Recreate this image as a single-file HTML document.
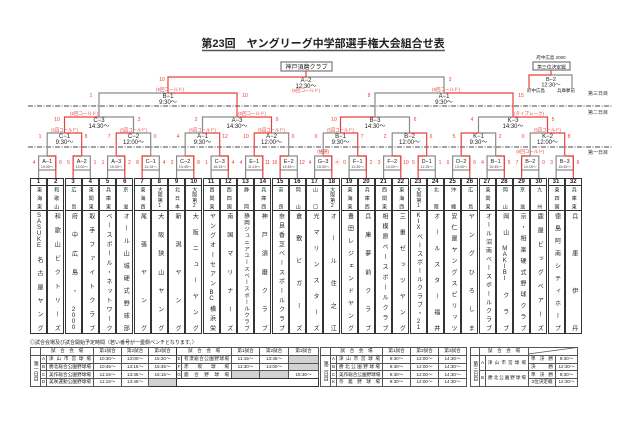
<!DOCTYPE html>
<html><head><meta charset="utf-8">
<style>
html,body{margin:0;padding:0;background:#fff;}
body{width:640px;height:426px;position:relative;overflow:hidden;font-family:"Liberation Sans","Noto Sans CJK JP",sans-serif;color:#222;}
svg{position:absolute;left:0;top:0;}
svg text{font-family:"Liberation Sans","Noto Sans CJK JP",sans-serif;}
.col{position:absolute;top:178px;width:15px;height:154px;border:1px solid #333;background:#fff;}
.n{height:6px;border-bottom:1px solid #333;font-size:6px;font-weight:bold;text-align:center;line-height:7px;}
.r,.m{writing-mode:vertical-rl;text-orientation:upright;text-align:justify;text-align-last:justify;width:15px;line-height:15px;font-size:5.5px;box-sizing:border-box;padding:1px 0;}
.r{height:25px;border-bottom:1px solid #333;font-size:5px;}
.m{height:122px;font-size:6px;padding:2px 0;}
table{position:absolute;border-collapse:collapse;font-size:4.6px;table-layout:fixed;}
td{border:0.8px solid #555;padding:0;text-align:center;white-space:nowrap;overflow:hidden;height:6.8px;line-height:6.5px;}
td.v{text-align:justify;text-align-last:justify;padding:0 2px;}
td.g{background:#d2d2d2;}
td.d{writing-mode:vertical-rl;text-orientation:upright;font-size:5px;}
.t{border:1.4px solid #333;}
</style></head><body>

<svg width="640" height="426" viewBox="0 0 640 426">
<text x="323" y="47" text-anchor="middle" font-size="11" font-weight="bold" fill="#222">第23回　ヤングリーグ中学部選手権大会組合せ表</text>
<line x1="202" y1="50.5" x2="445" y2="50.5" stroke="#555" stroke-width="1.6"/>

<line x1="28" y1="106" x2="612" y2="106" stroke="#444" stroke-width="1" stroke-dasharray="5,1.5,1,1.5"/>
<line x1="28" y1="147" x2="612" y2="147" stroke="#444" stroke-width="1" stroke-dasharray="5,1.5,1,1.5"/>
<g font-size="5" fill="#333" text-anchor="middle">
<text x="598" y="95">第三日目</text>
<text x="598" y="114">第二日目</text>
<text x="598" y="154">第一日目</text>
</g>

<rect x="281" y="62" width="51" height="9" fill="#fff" stroke="#777" stroke-width="1.2"/>
<text x="306.5" y="69" text-anchor="middle" font-size="6" fill="#222">神戸須磨クラブ</text>

<text x="551" y="59" text-anchor="middle" font-size="4.5" fill="#222">府中広島 2000</text>
<rect x="533" y="62" width="37" height="8" fill="#fff" stroke="#777" stroke-width="1.2"/>
<text x="551.5" y="68.3" text-anchor="middle" font-size="4.8" fill="#222">第三位決定戦</text>

<g fill="none" stroke-width="1.2">
<polyline points="572,88 572,75 551,75" stroke="#8a8a8a"/>
<polyline points="529,88 529,75 551,75 551,70" stroke="#e8413c"/>
<polyline points="444,93 444,77 306,77" stroke="#8a8a8a"/>
<polyline points="168,93 168,77 306,77 306,71" stroke="#e8413c"/>
<polyline points="99,117 99,93 168,93" stroke="#8a8a8a"/>
<polyline points="237,117 237,93 168,93" stroke="#e8413c"/>
<polyline points="375,117 375,93 444,93" stroke="#8a8a8a"/>
<polyline points="513,117 513,93 444,93" stroke="#e8413c"/>
<polyline points="133.5,133 133.5,117 99,117" stroke="#8a8a8a"/>
<polyline points="64.5,133 64.5,117 99,117" stroke="#e8413c"/>
<polyline points="202.5,133 202.5,117 237,117" stroke="#8a8a8a"/>
<polyline points="271.5,133 271.5,117 237,117" stroke="#e8413c"/>
<polyline points="409.5,133 409.5,117 375,117" stroke="#8a8a8a"/>
<polyline points="340.5,133 340.5,117 375,117" stroke="#e8413c"/>
<polyline points="478.5,133 478.5,117 513,117" stroke="#8a8a8a"/>
<polyline points="547.5,133 547.5,117 513,117" stroke="#e8413c"/>
<polyline points="47.2,156 47.2,133 64.5,133" stroke="#8a8a8a"/>
<polyline points="81.7,156 81.7,133 64.5,133" stroke="#e8413c"/>
<polyline points="150.7,156 150.7,133 133.5,133" stroke="#8a8a8a"/>
<polyline points="116.2,156 116.2,133 133.5,133" stroke="#e8413c"/>
<polyline points="185.2,156 185.2,133 202.5,133" stroke="#8a8a8a"/>
<polyline points="219.7,156 219.7,133 202.5,133" stroke="#e8413c"/>
<polyline points="288.7,156 288.7,133 271.5,133" stroke="#8a8a8a"/>
<polyline points="254.2,156 254.2,133 271.5,133" stroke="#e8413c"/>
<polyline points="323.2,156 323.2,133 340.5,133" stroke="#8a8a8a"/>
<polyline points="357.7,156 357.7,133 340.5,133" stroke="#e8413c"/>
<polyline points="392.2,156 392.2,133 409.5,133" stroke="#8a8a8a"/>
<polyline points="426.7,156 426.7,133 409.5,133" stroke="#e8413c"/>
<polyline points="495.7,156 495.7,133 478.5,133" stroke="#8a8a8a"/>
<polyline points="461.2,156 461.2,133 478.5,133" stroke="#e8413c"/>
<polyline points="530.2,156 530.2,133 547.5,133" stroke="#8a8a8a"/>
<polyline points="564.7,156 564.7,133 547.5,133" stroke="#e8413c"/>
</g>

<g fill="#fff" stroke="#8a8a8a" stroke-width="1.2">
<rect x="38.6" y="156" width="17.2" height="14"/>
<rect x="73.1" y="156" width="17.2" height="14"/>
<rect x="107.6" y="156" width="17.2" height="14"/>
<rect x="142.1" y="156" width="17.2" height="14"/>
<rect x="176.6" y="156" width="17.2" height="14"/>
<rect x="211.1" y="156" width="17.2" height="14"/>
<rect x="245.6" y="156" width="17.2" height="14"/>
<rect x="280.1" y="156" width="17.2" height="14"/>
<rect x="314.6" y="156" width="17.2" height="14"/>
<rect x="349.1" y="156" width="17.2" height="14"/>
<rect x="383.6" y="156" width="17.2" height="14"/>
<rect x="418.1" y="156" width="17.2" height="14"/>
<rect x="452.6" y="156" width="17.2" height="14"/>
<rect x="487.1" y="156" width="17.2" height="14"/>
<rect x="521.6" y="156" width="17.2" height="14"/>
<rect x="556.1" y="156" width="17.2" height="14"/>
</g>
<g fill="none" stroke="#8a8a8a" stroke-width="1.2">
<line x1="38.6" y1="170" x2="38.6" y2="178"/>
<line x1="90.3" y1="170" x2="90.3" y2="178"/>
<line x1="107.6" y1="170" x2="107.6" y2="178"/>
<line x1="159.3" y1="170" x2="159.3" y2="178"/>
<line x1="176.6" y1="170" x2="176.6" y2="178"/>
<line x1="211.1" y1="170" x2="211.1" y2="178"/>
<line x1="245.6" y1="170" x2="245.6" y2="178"/>
<line x1="297.3" y1="170" x2="297.3" y2="178"/>
<line x1="314.6" y1="170" x2="314.6" y2="178"/>
<line x1="349.1" y1="170" x2="349.1" y2="178"/>
<line x1="383.6" y1="170" x2="383.6" y2="178"/>
<line x1="435.3" y1="170" x2="435.3" y2="178"/>
<line x1="452.6" y1="170" x2="452.6" y2="178"/>
<line x1="487.1" y1="170" x2="487.1" y2="178"/>
<line x1="538.8" y1="170" x2="538.8" y2="178"/>
<line x1="556.1" y1="170" x2="556.1" y2="178"/>
</g>
<g fill="none" stroke="#e8413c" stroke-width="1.2">
<polyline points="55.8,178 55.8,156 47.2,156"/>
<polyline points="73.1,178 73.1,156 81.7,156"/>
<polyline points="124.8,178 124.8,156 116.2,156"/>
<polyline points="142.1,178 142.1,156 150.7,156"/>
<polyline points="193.8,178 193.8,156 185.2,156"/>
<polyline points="228.3,178 228.3,156 219.7,156"/>
<polyline points="262.8,178 262.8,156 254.2,156"/>
<polyline points="280.1,178 280.1,156 288.7,156"/>
<polyline points="331.8,178 331.8,156 323.2,156"/>
<polyline points="366.3,178 366.3,156 357.7,156"/>
<polyline points="400.8,178 400.8,156 392.2,156"/>
<polyline points="418.1,178 418.1,156 426.7,156"/>
<polyline points="469.8,178 469.8,156 461.2,156"/>
<polyline points="504.3,178 504.3,156 495.7,156"/>
<polyline points="521.6,178 521.6,156 530.2,156"/>
<polyline points="573.3,178 573.3,156 564.7,156"/>
</g>

<g text-anchor="middle" fill="#222">
<g font-size="5.5">
<text x="47.2" y="163">A−1</text><text x="81.7" y="163">A−2</text><text x="116.2" y="163">A−3</text><text x="150.7" y="163">C−1</text>
<text x="185.2" y="163">C−2</text><text x="219.7" y="163">C−3</text><text x="254.2" y="163">E−1</text><text x="288.7" y="163">E−2</text>
<text x="323.2" y="163">G−3</text><text x="357.7" y="163">F−1</text><text x="392.2" y="163">F−2</text><text x="426.7" y="163">D−1</text>
<text x="461.2" y="163">D−2</text><text x="495.7" y="163">B−1</text><text x="530.2" y="163">B−2</text><text x="564.7" y="163">B−3</text>
</g>
<g font-size="3.6" fill="#444">
<text x="47.2" y="168">10:30〜</text><text x="81.7" y="168">13:00〜</text><text x="116.2" y="168">15:30〜</text><text x="150.7" y="168">11:15〜</text>
<text x="185.2" y="168">13:45〜</text><text x="219.7" y="168">16:15〜</text><text x="254.2" y="168">11:15〜</text><text x="288.7" y="168">13:45〜</text>
<text x="323.2" y="168">15:30〜</text><text x="357.7" y="168">11:30〜</text><text x="392.2" y="168">14:00〜</text><text x="426.7" y="168">11:15〜</text>
<text x="461.2" y="168">13:45〜</text><text x="495.7" y="168">10:45〜</text><text x="530.2" y="168">10:15〜</text><text x="564.7" y="168">15:45〜</text>
</g>
</g>
<g text-anchor="middle" fill="#e8413c" font-size="5">
<text x="34" y="164">4</text><text x="60.5" y="164">6</text>
<text x="68.5" y="164">5</text><text x="95" y="164">1</text>
<text x="103" y="164">1</text><text x="129.5" y="164">2</text>
<text x="137.5" y="164">8</text><text x="164" y="164">4</text>
<text x="172" y="164">3</text><text x="198.5" y="164">8</text>
<text x="206.5" y="164">1</text><text x="233" y="164">4</text>
<text x="241" y="164">4</text><text x="267.5" y="164">11</text>
<text x="274.5" y="164">16</text><text x="302" y="164">12</text>
<text x="310" y="164">4</text><text x="337" y="164">④</text>
<text x="344.5" y="164">0</text><text x="371" y="164">2</text>
<text x="379" y="164">3</text><text x="406" y="164">10</text>
<text x="413.5" y="164">5</text><text x="440" y="164">1</text>
<text x="448" y="164">0</text><text x="474.5" y="164">6</text>
<text x="482.5" y="164">4</text><text x="509" y="164">5</text>
<text x="517" y="164">7</text><text x="543.5" y="164">0</text>
<text x="551.5" y="164">3</text><text x="578" y="164">6</text>
<text x="323.2" y="153" font-size="4.5">(抽選)</text>
<text x="530.2" y="153" font-size="4.5">(6回コールド)</text>
</g>

<g text-anchor="middle" fill="#222" font-size="6">
<text x="64.5" y="138">C−1</text><text x="133.5" y="138">C−2</text><text x="202.5" y="138">A−1</text><text x="271.5" y="138">A−2</text>
<text x="340.5" y="138">B−1</text><text x="409.5" y="138">B−2</text><text x="478.5" y="138">K−1</text><text x="547.5" y="138">K−2</text>
<text x="64.5" y="144">9:30〜</text><text x="133.5" y="144">12:00〜</text><text x="202.5" y="144">9:30〜</text><text x="271.5" y="144">12:00〜</text>
<text x="340.5" y="144">9:30〜</text><text x="409.5" y="144">12:00〜</text><text x="478.5" y="144">9:30〜</text><text x="547.5" y="144">12:00〜</text>
</g>
<g text-anchor="middle" fill="#e8413c" font-size="5">
<text x="40" y="138">1</text><text x="86" y="138">8</text>
<text x="109" y="138">7</text><text x="155" y="138">0</text>
<text x="178" y="138">4</text><text x="225" y="138">12</text>
<text x="246" y="138">10</text><text x="293" y="138">0</text>
<text x="316" y="138">0</text><text x="362" y="138">7</text>
<text x="385" y="138">2</text><text x="431" y="138">6</text>
<text x="454" y="138">5</text><text x="500" y="138">2</text>
<text x="523" y="138">0</text><text x="569" y="138">8</text>
<g font-size="4.3">
<text x="64.5" y="131.5">(6回コールド)</text><text x="133.5" y="131.5">(5回コールド)</text>
<text x="202.5" y="131.5">(6回コールド)</text><text x="271.5" y="131.5">(5回コールド)</text>
<text x="340.5" y="131.5">(5回コールド)</text><text x="547.5" y="131.5">(5回コールド)</text>
</g>
</g>

<g text-anchor="middle" fill="#222" font-size="6">
<text x="99" y="122">C−3</text><text x="237" y="122">A−3</text><text x="375" y="122">B−3</text><text x="513" y="122">K−3</text>
<text x="99" y="128">14:30〜</text><text x="237" y="128">14:30〜</text><text x="375" y="128">14:30〜</text><text x="513" y="128">14:30〜</text>
</g>
<g text-anchor="middle" fill="#e8413c" font-size="5">
<text x="57" y="121">10</text><text x="139" y="121">3</text>
<text x="196" y="121">2</text><text x="277" y="121">9</text>
<text x="334" y="121">10</text><text x="415" y="121">6</text>
<text x="472" y="121">4</text><text x="553" y="121">5</text>
<g font-size="4.5">
<text x="84" y="115">(5回コールド)</text><text x="252" y="115">(5回コールド)</text><text x="529" y="115">(タイブレーク)</text>
</g>
</g>

<g text-anchor="middle" fill="#222" font-size="6">
<text x="168" y="98">B−1</text><text x="168" y="104">9:30〜</text>
<text x="444" y="98">A−1</text><text x="444" y="104">9:30〜</text>
<text x="306" y="82">A−2</text><text x="306" y="88">12:30〜</text>
<text x="551" y="81" font-size="5.5">B−2</text><text x="551" y="86.5" font-size="5.5">12:30〜</text>
<text x="536" y="92" font-size="4.5">府中広島</text><text x="566" y="92" font-size="4.5">兵庫夢前</text>
</g>
<g text-anchor="middle" fill="#e8413c" font-size="5">
<text x="91" y="97">1</text><text x="245" y="97">10</text>
<text x="369" y="97">8</text><text x="521" y="97">15</text>
<text x="162" y="81">10</text><text x="450" y="81">3</text>
<g font-size="4.5">
<text x="170" y="91">(5回コールド)</text><text x="306" y="92">(5回コールド)</text><text x="446" y="91">(6回コールド)</text>
</g>
</g>

<line x1="528" y1="354" x2="577" y2="347.5" stroke="#555" stroke-width="0.7"/>
<text x="30" y="344" font-size="5" fill="#222">◎試合会場及び試合開始予定時間（若い番号が一塁側ベンチとなります。）</text>
</svg>

<div class="col" style="left:30px"><div class="n">1</div><div class="r">東海東</div><div class="m">SASUKE名古屋ヤング</div></div>
<div class="col" style="left:47.25px"><div class="n">2</div><div class="r">和歌山</div><div class="m">和歌山ビクトリーズ</div></div>
<div class="col" style="left:64.5px"><div class="n">3</div><div class="r">広島</div><div class="m">府中広島・2000</div></div>
<div class="col" style="left:81.75px"><div class="n">4</div><div class="r">東関東</div><div class="m">取手ファイトクラブ</div></div>
<div class="col" style="left:99px"><div class="n">5</div><div class="r">兵庫東</div><div class="m">ベースボール・ネットワーク</div></div>
<div class="col" style="left:116.25px"><div class="n">6</div><div class="r">京滋</div><div class="m">オール山城硬式野球部</div></div>
<div class="col" style="left:133.5px"><div class="n">7</div><div class="r">東海西</div><div class="m">尾張ヤング</div></div>
<div class="col" style="left:150.75px"><div class="n">8</div><div class="r">大阪第1</div><div class="m">大阪狭山ヤング</div></div>
<div class="col" style="left:168px"><div class="n">9</div><div class="r">北日本</div><div class="m">新潟ヤング</div></div>
<div class="col" style="left:185.25px"><div class="n">10</div><div class="r">大阪第2</div><div class="m">大阪ニューヤング</div></div>
<div class="col" style="left:202.5px"><div class="n">11</div><div class="r">西関東</div><div class="m">ヤングオーセアンBC横浜栄</div></div>
<div class="col" style="left:219.75px"><div class="n">12</div><div class="r">西四国</div><div class="m">南国マリナーズ</div></div>
<div class="col" style="left:237px"><div class="n">13</div><div class="r">静岡</div><div class="m" style="font-size:5.5px">静岡ジュニアユースベースボールクラブ</div></div>
<div class="col" style="left:254.25px"><div class="n">14</div><div class="r">兵庫西</div><div class="m">神戸須磨クラブ</div></div>
<div class="col" style="left:271.5px"><div class="n">15</div><div class="r">奈良</div><div class="m">奈良香芝ベースボールクラブ</div></div>
<div class="col" style="left:288.75px"><div class="n">16</div><div class="r">岡山</div><div class="m">倉敷ビガーズ</div></div>
<div class="col" style="left:306px"><div class="n">17</div><div class="r">山口</div><div class="m">光マリンスターズ</div></div>
<div class="col" style="left:323.25px"><div class="n">18</div><div class="r">大阪第2</div><div class="m">オール住之江</div></div>
<div class="col" style="left:340.5px"><div class="n">19</div><div class="r">東海東</div><div class="m">豊田レジェンドヤング</div></div>
<div class="col" style="left:357.75px"><div class="n">20</div><div class="r">兵庫西</div><div class="m">兵庫夢前クラブ</div></div>
<div class="col" style="left:375px"><div class="n">21</div><div class="r">西関東</div><div class="m">相模原ベースボールクラブ</div></div>
<div class="col" style="left:392.25px"><div class="n">22</div><div class="r">東海西</div><div class="m">三重ゼッツヤング</div></div>
<div class="col" style="left:409.5px"><div class="n">23</div><div class="r">大阪第1</div><div class="m">KIXベースボールクラブ・21</div></div>
<div class="col" style="left:426.75px"><div class="n">24</div><div class="r">北陸</div><div class="m">オールスター福井</div></div>
<div class="col" style="left:444px"><div class="n">25</div><div class="r">沖縄</div><div class="m">安仁屋ヤングスピリッツ</div></div>
<div class="col" style="left:461.25px"><div class="n">26</div><div class="r">広島</div><div class="m">ヤングひろしま</div></div>
<div class="col" style="left:478.5px"><div class="n">27</div><div class="r">東関東</div><div class="m">オール沼南ベースボールクラブ</div></div>
<div class="col" style="left:495.75px"><div class="n">28</div><div class="r">岡山</div><div class="m">岡山MAKIBIクラブ</div></div>
<div class="col" style="left:513px"><div class="n">29</div><div class="r">京滋</div><div class="m">京・相楽硬式野球クラブ</div></div>
<div class="col" style="left:530.25px"><div class="n">30</div><div class="r">九州</div><div class="m">鹿屋ビッグベアーズ</div></div>
<div class="col" style="left:547.5px"><div class="n">31</div><div class="r">東四国</div><div class="m">徳島阿南シティホープ</div></div>
<div class="col" style="left:564.75px"><div class="n">32</div><div class="r">兵庫東</div><div class="m">兵庫伊丹</div></div>

<table class="t" style="left:30px;top:347px;width:288px;">
<colgroup><col style="width:10px"><col style="width:6px"><col style="width:47px"><col style="width:28px"><col style="width:27px"><col style="width:28px"><col style="width:5px"><col style="width:50px"><col style="width:28px"><col style="width:29px"><col style="width:30px"></colgroup>
<tr><td></td><td colspan="2">試　合　会　場</td><td>第1試合</td><td>第2試合</td><td style="border-right:1.4px solid #333">第3試合</td><td colspan="2">試　合　会　場</td><td>第1試合</td><td>第2試合</td><td>第3試合</td></tr>
<tr><td class="d" rowspan="4">第一日目</td><td>A</td><td class="v">津山市営球場</td><td>10:30〜</td><td>13:00〜</td><td style="border-right:1.4px solid #333">15:30〜</td><td>E</td><td class="v">有漢総合公園野球場</td><td>11:15〜</td><td>13:45〜</td><td class="g"></td></tr>
<tr><td>B</td><td class="v">勝北総合公園野球場</td><td>10:45〜</td><td>13:15〜</td><td style="border-right:1.4px solid #333">15:45〜</td><td>F</td><td class="v">赤坂球場</td><td>11:30〜</td><td>14:00〜</td><td class="g"></td></tr>
<tr><td>C</td><td class="v">美作総合公園野球場</td><td>11:15〜</td><td>13:45〜</td><td style="border-right:1.4px solid #333">16:15〜</td><td style="border-bottom:1.4px solid #333">G</td><td class="v" style="border-bottom:1.4px solid #333">鹿合野球場</td><td class="g" style="border-bottom:1.4px solid #333"></td><td class="g" style="border-bottom:1.4px solid #333"></td><td style="border-bottom:1.4px solid #333">15:30〜</td></tr>
<tr><td>D</td><td class="v">美咲運動公園野球場</td><td>11:15〜</td><td>13:45〜</td><td class="g" style="border-right:1.4px solid #333;border-bottom:1.4px solid #333"></td><td colspan="5" style="border:none;background:#fff"></td></tr>
</table>

<table class="t" style="left:320px;top:347px;width:146px;">
<colgroup><col style="width:10px"><col style="width:6px"><col style="width:46px"><col style="width:28px"><col style="width:28px"><col style="width:28px"></colgroup>
<tr><td></td><td colspan="2">試　合　会　場</td><td>第1試合</td><td>第2試合</td><td>第3試合</td></tr>
<tr><td class="d" rowspan="4">第二日目</td><td>A</td><td class="v">津山市営球場</td><td>9:30〜</td><td>12:00〜</td><td>14:30〜</td></tr>
<tr><td>B</td><td class="v">勝北公園野球場</td><td>9:30〜</td><td>12:00〜</td><td>14:30〜</td></tr>
<tr><td>C</td><td class="v">美作総合公園野球場</td><td>9:30〜</td><td>12:00〜</td><td>14:30〜</td></tr>
<tr><td>K</td><td class="v">奈義野球場</td><td>9:30〜</td><td>12:00〜</td><td>14:30〜</td></tr>
</table>

<table class="t" style="left:470px;top:347px;width:107px;">
<colgroup><col style="width:9px"><col style="width:6px"><col style="width:43px"><col style="width:27px"><col style="width:22px"></colgroup>
<tr><td></td><td colspan="2">試　合　会　場</td><td colspan="2"></td></tr>
<tr><td class="d" rowspan="4">第三日目</td><td rowspan="2">A</td><td class="v" rowspan="2">津山市営球場</td><td class="v">準決勝</td><td>9:30〜</td></tr>
<tr><td class="v">決勝</td><td>12:30〜</td></tr>
<tr><td rowspan="2">B</td><td class="v" rowspan="2">勝北公園野球場</td><td class="v">準決勝</td><td>9:30〜</td></tr>
<tr><td>3位決定戦</td><td>12:30〜</td></tr>
</table>

</body></html>
